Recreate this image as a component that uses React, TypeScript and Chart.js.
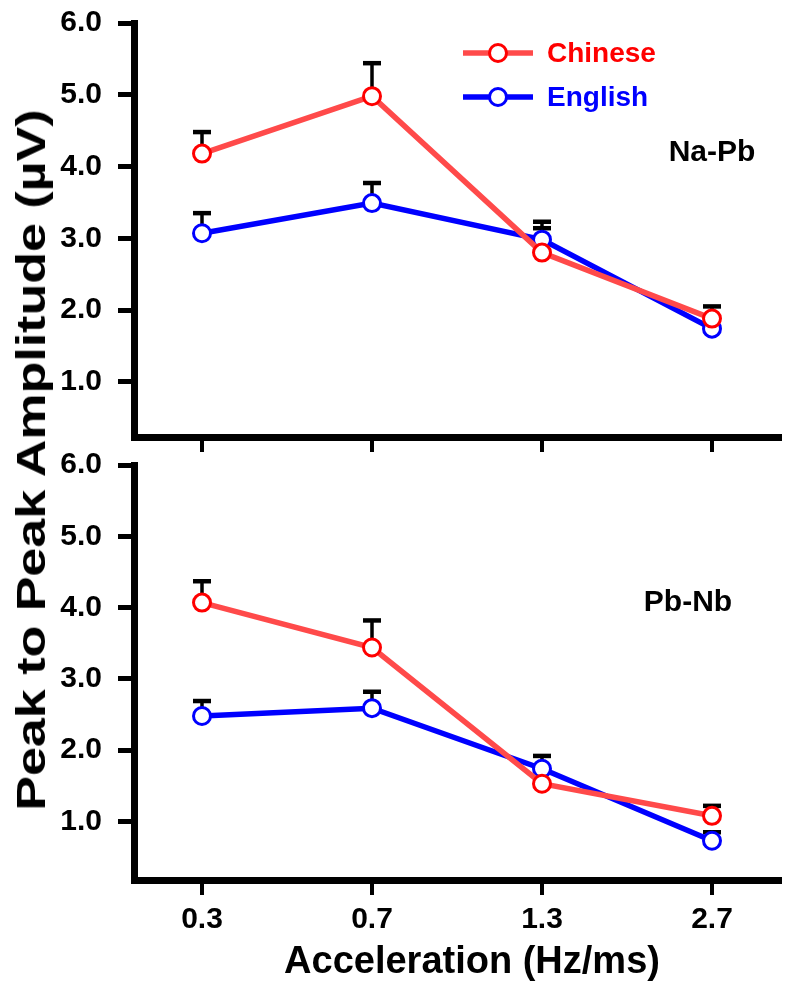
import React, { useEffect, useRef } from "react";
import { Chart, registerables } from "chart.js";

Chart.register(...registerables);

// ---------- data ----------
const categories = ["0.3", "0.7", "1.3", "2.7"];
const seriesNames = ["Chinese", "English"];
const yTickValues = [1, 2, 3, 4, 5, 6];
const yMaxValue = 6;
const yMinTop = 0.23;
const yMinBottom = 0.18;

const naPbChinese = [4.18, 4.98, 2.8, 1.88];
const naPbChineseErr = [0.3, 0.46, 0.34, 0.17];
const naPbEnglish = [3.07, 3.49, 2.98, 1.74];
const naPbEnglishErr = [0.28, 0.28, 0.25, 0.14];

const pbNbChinese = [4.07, 3.44, 1.53, 1.08];
const pbNbChineseErr = [0.3, 0.38, 0.18, 0.14];
const pbNbEnglish = [2.48, 2.59, 1.74, 0.73];
const pbNbEnglishErr = [0.21, 0.23, 0.18, 0.12];

const panelLabels = ["Na-Pb", "Pb-Nb"];
const xTitle = "Acceleration (Hz/ms)";
const yTitle = "Peak to Peak Amplitude (\u00b5V)";

// ---------- styles ----------
const FONT = "'Liberation Sans', Arial, sans-serif";
const RED_LINE = "#ff4a4a";
const RED = "#ff0000";
const BLUE = "#0000ff";

const errorBarPlugin = {
  id: "errorBars",
  beforeDatasetsDraw(chart: any) {
    const ctx = chart.ctx;
    const ys = chart.scales.y;
    chart.data.datasets.forEach((ds: any, di: number) => {
      const meta = chart.getDatasetMeta(di);
      meta.data.forEach((pt: any, i: number) => {
        const v = ds.data[i].y;
        const top = ys.getPixelForValue(v + ds.errors[i]);
        ctx.save();
        ctx.strokeStyle = "#000";
        ctx.lineWidth = 3.5;
        ctx.beginPath();
        ctx.moveTo(pt.x, pt.y);
        ctx.lineTo(pt.x, top);
        ctx.stroke();
        ctx.lineWidth = 4.5;
        ctx.beginPath();
        ctx.moveTo(pt.x - 9, top);
        ctx.lineTo(pt.x + 9, top);
        ctx.stroke();
        ctx.restore();
      });
    });
  },
};

const annotationPlugin = {
  id: "panelText",
  afterDraw(chart: any, _args: any, opts: any) {
    const ctx = chart.ctx;
    ctx.save();
    ctx.textBaseline = "middle";
    if (opts.label) {
      ctx.font = `bold 30px ${FONT}`;
      ctx.fillStyle = "#000";
      ctx.textAlign = "center";
      ctx.fillText(opts.label, opts.labelX, opts.labelY);
    }
    if (opts.xTitle) {
      ctx.font = `bold 38px ${FONT}`;
      ctx.fillStyle = "#000";
      ctx.textAlign = "center";
      ctx.fillText(opts.xTitle, opts.xTitleX, opts.xTitleY);
    }
    if (opts.legend) {
      chart.data.datasets.forEach((ds: any, i: number) => {
        const cy = opts.legendY + i * opts.legendGap;
        const x0 = opts.legendX;
        ctx.strokeStyle = ds.borderColor;
        ctx.lineWidth = ds.borderWidth;
        ctx.beginPath();
        ctx.moveTo(x0, cy);
        ctx.lineTo(x0 + 70, cy);
        ctx.stroke();
        ctx.beginPath();
        ctx.arc(x0 + 35, cy, ds.pointRadius, 0, Math.PI * 2);
        ctx.fillStyle = "#fff";
        ctx.fill();
        ctx.lineWidth = ds.pointBorderWidth;
        ctx.strokeStyle = ds.pointBorderColor;
        ctx.stroke();
        ctx.font = `bold 28px ${FONT}`;
        ctx.fillStyle = ds.labelColor;
        ctx.textAlign = "left";
        ctx.fillText(ds.label, x0 + 84, cy + 1);
      });
    }
    ctx.restore();
  },
};

function makeDataset(label: string, values: number[], errs: number[], line: string, marker: string, text: string) {
  return {
    label,
    data: values.map((v, i) => ({ x: i, y: v })),
    errors: errs,
    borderColor: line,
    borderWidth: 5.5,
    pointRadius: 8.5,
    pointBorderWidth: 3,
    pointBorderColor: marker,
    pointBackgroundColor: "#fff",
    pointHoverRadius: 8.5,
    labelColor: text,
    tension: 0,
    fill: false,
  };
}

function buildConfig(
  chinese: number[], chineseErr: number[], english: number[], englishErr: number[],
  showX: boolean, yMin: number, padTop: number, xHeight: number, textOpts: any
) {
  return {
    type: "line" as const,
    data: {
      datasets: [
        makeDataset(seriesNames[0], chinese, chineseErr, RED_LINE, RED, RED),
        makeDataset(seriesNames[1], english, englishErr, BLUE, BLUE, BLUE),
      ],
    },
    options: {
      animation: false as const,
      responsive: false,
      devicePixelRatio: 1,
      layout: { padding: { top: padTop, left: 0, right: 20, bottom: 0 } },
      plugins: {
        legend: { display: false },
        tooltip: { enabled: false },
        panelText: textOpts,
      },
      scales: {
        x: {
          type: "linear" as const,
          min: -0.4,
          max: 3.4,
          afterBuildTicks: (s: any) => {
            s.ticks = categories.map((_, i) => ({ value: i }));
          },
          afterFit: (s: any) => {
            s.height = xHeight;
            s.paddingLeft = 0;
            s.paddingRight = 0;
          },
          ticks: {
            display: showX,
            autoSkip: false,
            maxRotation: 0,
            padding: 7,
            color: "#000",
            font: { family: FONT, size: 30, weight: "bold" as const },
            callback: (v: any) => categories[v] ?? "",
          },
          grid: { drawOnChartArea: false, drawTicks: true, tickLength: 15, lineWidth: 4, color: "#000" },
          border: { display: true, width: 7, color: "#000" },
        },
        y: {
          type: "linear" as const,
          min: yMin,
          max: yMaxValue,
          afterBuildTicks: (s: any) => {
            s.ticks = yTickValues.map((v) => ({ value: v }));
          },
          afterFit: (s: any) => {
            s.width = 134;
            s.paddingTop = 0;
            s.paddingBottom = 0;
          },
          ticks: {
            padding: 16,
            color: "#000",
            font: { family: FONT, size: 30, weight: "bold" as const },
            callback: (v: any) => Number(v).toFixed(1),
          },
          grid: { drawOnChartArea: false, drawTicks: true, tickLength: 16, lineWidth: 5, color: "#000" },
          border: { display: true, width: 7, color: "#000" },
        },
      },
    },
    plugins: [errorBarPlugin, annotationPlugin],
  };
}

export default function App() {
  const topRef = useRef<HTMLCanvasElement>(null);
  const botRef = useRef<HTMLCanvasElement>(null);

  useEffect(() => {
    const top = new Chart(
      topRef.current as HTMLCanvasElement,
      buildConfig(naPbChinese, naPbChineseErr, naPbEnglish, naPbEnglishErr, false, yMinTop, 23, 33, {
        label: panelLabels[0],
        labelX: 712,
        labelY: 153,
        legend: true,
        legendX: 463,
        legendY: 53,
        legendGap: 44,
      }) as any
    );
    const bot = new Chart(
      botRef.current as HTMLCanvasElement,
      buildConfig(pbNbChinese, pbNbChineseErr, pbNbEnglish, pbNbEnglishErr, true, yMinBottom, 25, 116, {
        label: panelLabels[1],
        labelX: 688,
        labelY: 163,
        legend: false,
        xTitle: xTitle,
        xTitleX: 472,
        xTitleY: 523,
      }) as any
    );
    return () => {
      top.destroy();
      bot.destroy();
    };
  }, []);

  return (
    <div style={{ position: "absolute", left: 0, top: 0, width: 800, height: 996, background: "#fff", overflow: "hidden" }}>
      <canvas ref={topRef} width={800} height={470} style={{ position: "absolute", left: 0, top: 0, width: 800, height: 470 }} />
      <canvas ref={botRef} width={800} height={556} style={{ position: "absolute", left: 0, top: 440, width: 800, height: 556 }} />
      <div
        style={{
          position: "absolute",
          left: 31,
          top: 460,
          transform: "translate(-50%, -50%) rotate(-90deg) scaleX(1.3)",
          whiteSpace: "nowrap",
          fontFamily: FONT,
          fontWeight: "bold",
          fontSize: 40,
          lineHeight: 1,
          color: "#000",
        }}
      >
        {yTitle}
      </div>
    </div>
  );
}
